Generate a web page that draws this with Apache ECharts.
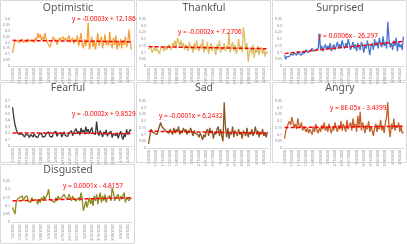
<!DOCTYPE html>
<html><head><meta charset="utf-8">
<script src="https://cdn.jsdelivr.net/npm/echarts@6/dist/echarts.min.js"></script>
<style>html,body{margin:0;padding:0;background:#fff}#c{width:407px;height:244px}</style>
</head><body><div id="c"></div>
<script>
const titles = ['Optimistic','Thankful','Surprised','Fearful','Sad','Angry','Disgusted'];
const equations = ['y = -0.0003x + 12.186','y = -0.0002x + 7.2706','y = 0.0006x - 26.297','y = -0.0002x + 9.8529','y = -0.0001x + 6.2432','y = 8E-05x - 3.4399','y = 0.0001x - 4.8157'];
const colors = ['#F6A03C','#DDBE62','#4672CC','#3A3A3A','#8A5422','#C4622C','#8E8A22'];
const yMax = [0.4,0.35,0.35,0.7,0.35,0.35,0.25];
const yStep = [0.05,0.05,0.05,0.1,0.05,0.05,0.05];

const optimistic = [0.11,0.17,0.22,0.23,0.21,0.22,0.20,0.21,0.23,0.20,
0.21,0.22,0.20,0.23,0.21,0.20,0.22,0.21,0.20,0.24,
0.22,0.28,0.24,0.27,0.22,0.25,0.21,0.28,0.23,0.20,
0.19,0.16,0.17,0.22,0.25,0.21,0.23,0.18,0.19,0.24,
0.22,0.21,0.25,0.22,0.24,0.21,0.23,0.26,0.20,0.22,
0.24,0.19,0.23,0.21,0.26,0.17,0.22,0.28,0.18,0.15,
0.23,0.17,0.21,0.37,0.14,0.20,0.25,0.16,0.22,0.14,
0.21,0.28,0.17,0.21,0.25,0.15,0.20,0.27,0.18,0.22,
0.17,0.29,0.19,0.15,0.24,0.18,0.26,0.14,0.21,0.17,
0.23,0.15,0.22,0.18,0.25,0.16,0.20,0.31,0.21,0.14];
const thankful = [0.12,0.15,0.13,0.10,0.12,0.14,0.11,0.13,0.12,0.09,
0.13,0.12,0.14,0.11,0.15,0.12,0.13,0.16,0.14,0.12,
0.17,0.15,0.19,0.13,0.21,0.18,0.15,0.19,0.14,0.17,
0.12,0.16,0.14,0.11,0.18,0.13,0.15,0.10,0.17,0.12,
0.19,0.14,0.11,0.16,0.13,0.20,0.10,0.15,0.12,0.18,
0.09,0.14,0.17,0.11,0.15,0.13,0.08,0.16,0.12,0.19,
0.10,0.14,0.12,0.17,0.11,0.15,0.13,0.25,0.10,0.14,
0.18,0.11,0.16,0.09,0.13,0.20,0.12,0.15,0.10,0.29,
0.21,0.12,0.17,0.03,0.11,0.14,0.09,0.16,0.06,0.13,
0.10,0.15,0.08,0.12,0.14,0.09,0.13,0.07,0.11,0.09];
const surprised = [0.08,0.05,0.07,0.08,0.07,0.09,0.08,0.08,0.10,0.09,
0.08,0.11,0.09,0.10,0.08,0.11,0.09,0.10,0.12,0.10,
0.09,0.11,0.10,0.13,0.11,0.10,0.12,0.11,0.13,0.24,
0.12,0.15,0.11,0.14,0.16,0.12,0.15,0.13,0.17,0.11,
0.14,0.16,0.12,0.15,0.18,0.13,0.16,0.14,0.19,0.15,
0.13,0.17,0.14,0.20,0.16,0.12,0.15,0.18,0.13,0.16,
0.11,0.17,0.14,0.12,0.18,0.15,0.10,0.16,0.13,0.19,
0.14,0.08,0.15,0.17,0.12,0.20,0.15,0.18,0.13,0.21,
0.16,0.14,0.22,0.15,0.18,0.13,0.33,0.20,0.14,0.17,
0.12,0.19,0.15,0.21,0.11,0.18,0.14,0.16,0.12,0.22];
const fearful = [0.60,0.45,0.33,0.26,0.20,0.17,0.18,0.15,0.19,0.16,
0.14,0.18,0.15,0.17,0.13,0.18,0.16,0.14,0.19,0.15,
0.17,0.13,0.18,0.16,0.20,0.14,0.17,0.15,0.19,0.16,
0.22,0.15,0.18,0.14,0.20,0.17,0.23,0.15,0.19,0.16,
0.21,0.14,0.18,0.22,0.16,0.19,0.15,0.20,0.17,0.24,
0.16,0.21,0.18,0.27,0.19,0.23,0.17,0.28,0.21,0.25,
0.18,0.30,0.22,0.26,0.19,0.24,0.29,0.20,0.23,0.18,
0.38,0.21,0.16,0.24,0.19,0.14,0.22,0.18,0.25,0.15,
0.20,0.17,0.23,0.13,0.19,0.22,0.16,0.20,0.12,0.18,
0.23,0.15,0.10,0.19,0.14,0.26,0.18,0.21,0.25,0.24];
const sad = [0.03,0.09,0.14,0.12,0.13,0.11,0.12,0.10,0.13,0.12,
0.19,0.16,0.17,0.14,0.15,0.12,0.13,0.11,0.14,0.12,
0.10,0.15,0.11,0.14,0.12,0.16,0.10,0.13,0.11,0.15,
0.12,0.14,0.10,0.13,0.11,0.15,0.12,0.09,0.13,0.11,
0.12,0.10,0.08,0.11,0.09,0.06,0.10,0.08,0.12,0.14,
0.09,0.15,0.11,0.13,0.07,0.12,0.10,0.14,0.16,0.09,
0.14,0.09,0.05,0.34,0.16,0.08,0.15,0.07,0.12,0.10,
0.16,0.08,0.13,0.11,0.09,0.14,0.10,0.12,0.07,0.13,
0.11,0.09,0.15,0.08,0.12,0.10,0.14,0.09,0.11,0.16,
0.10,0.13,0.08,0.12,0.10,0.14,0.09,0.11,0.08,0.12];
const angry = [0.07,0.13,0.15,0.18,0.20,0.17,0.23,0.19,0.15,0.18,
0.14,0.22,0.17,0.15,0.19,0.13,0.16,0.14,0.12,0.15,
0.11,0.14,0.13,0.10,0.16,0.12,0.18,0.13,0.11,0.15,
0.12,0.17,0.14,0.19,0.13,0.16,0.12,0.18,0.14,0.11,
0.16,0.13,0.19,0.15,0.12,0.17,0.14,0.20,0.13,0.18,
0.15,0.12,0.21,0.14,0.17,0.19,0.13,0.22,0.15,0.18,
0.12,0.24,0.16,0.27,0.13,0.19,0.15,0.11,0.17,0.14,
0.20,0.12,0.16,0.13,0.09,0.15,0.18,0.12,0.17,0.14,
0.21,0.13,0.16,0.11,0.19,0.23,0.34,0.15,0.08,0.18,
0.14,0.22,0.13,0.17,0.15,0.19,0.12,0.16,0.11,0.12];
const disgusted = [0.09,0.08,0.05,0.12,0.14,0.13,0.15,0.14,0.16,0.13,
0.15,0.14,0.16,0.13,0.14,0.12,0.15,0.13,0.12,0.14,
0.13,0.11,0.14,0.12,0.15,0.13,0.16,0.14,0.13,0.17,
0.20,0.14,0.15,0.13,0.14,0.12,0.15,0.13,0.16,0.14,
0.13,0.15,0.14,0.17,0.15,0.16,0.14,0.17,0.15,0.13,
0.16,0.14,0.15,0.13,0.14,0.15,0.13,0.18,0.14,0.07,
0.10,0.13,0.09,0.12,0.15,0.11,0.14,0.10,0.16,0.13,
0.17,0.11,0.15,0.18,0.12,0.16,0.13,0.17,0.12,0.15,
0.14,0.16,0.13,0.21,0.18,0.13,0.15,0.14,0.17,0.13,
0.16,0.14,0.15,0.18,0.12,0.15,0.14,0.13,0.15,0.14];
const seriesData = [optimistic,thankful,surprised,fearful,sad,angry,disgusted];

// date categories (daily)
const categories = [];
{ const d0 = new Date(2020,0,4);
  for (let i=0;i<optimistic.length;i++){ const d=new Date(d0.getTime()+i*86400000); categories.push((d.getMonth()+1)+'/'+d.getDate()+'/'+d.getFullYear()); } }

function trend(arr){
  const n=arr.length; let sx=0,sy=0,sxy=0,sxx=0;
  arr.forEach((v,i)=>{sx+=i;sy+=v;sxy+=i*v;sxx+=i*i;});
  const b=(n*sxy-sx*sy)/(n*sxx-sx*sx), a=(sy-b*sx)/n;
  return arr.map((v,i)=>+(a+b*i).toFixed(4));
}

const panels = [[0,0],[136,0],[272,0],[0,82],[136,82],[272,82],[0,164]];
const plot = [[19,66],[19,66],[19,66],[19,64],[19,66],[19,66],[17,68]];
const eqPos = [[72,16],[178,29],[318,33],[72,111],[159,113],[330,105],[63,183]];
const titleY = [3,3,3,83,83,83,165];

const FONT = 'Noto Sans';
const grid=[],xAxis=[],yAxis=[],series=[],title=[],graphic=[];
panels.forEach((p,k)=>{
  graphic.push({type:'rect',shape:{x:p[0]+0.5,y:p[1]+0.5,width:134,height:(k===6?79:80)},style:{fill:null,stroke:'#D9D9D9',lineWidth:1},silent:true,z:-1});
  grid.push({left:p[0]+12,width:120,top:p[1]+plot[k][0],height:plot[k][1]-plot[k][0]});
  xAxis.push({type:'category',gridIndex:k,data:categories,boundaryGap:true,
    axisLine:{lineStyle:{color:'#D9D9D9'}},axisTick:{show:false},
    axisLabel:{rotate:90,fontSize:3.5,color:'#7F7F7F',interval:5,margin:2,fontFamily:FONT}});
  yAxis.push({type:'value',gridIndex:k,min:0,max:yMax[k],interval:yStep[k],
    splitLine:{show:false},axisLine:{show:false},axisTick:{show:false},
    axisLabel:{fontSize:3.5,color:'#7F7F7F',margin:2,fontFamily:FONT}});
  series.push({type:'line',xAxisIndex:k,yAxisIndex:k,data:seriesData[k],showSymbol:false,
    lineStyle:{color:colors[k],width:1.3},itemStyle:{color:colors[k]},z:2});
  series.push({type:'line',xAxisIndex:k,yAxisIndex:k,data:trend(seriesData[k]),showSymbol:false,
    lineStyle:{color:'#FF0000',width:1.5,type:[4,2]},z:3});
  title.push({text:titles[k],left:p[0]+68,top:titleY[k],textAlign:'center',padding:0,
    textStyle:{fontSize:10.5,fontWeight:'normal',color:'#595959',fontFamily:FONT}});
  graphic.push({type:'text',left:eqPos[k][0],top:eqPos[k][1],z:10,
    style:{text:equations[k],fill:'#FF0000',fontSize:6.5,fontFamily:FONT}});
});
const chart = echarts.init(document.getElementById('c'),null,{renderer:'canvas'});
chart.setOption({animation:false,backgroundColor:'#fff',title,grid,xAxis,yAxis,series,graphic});
</script></body></html>
